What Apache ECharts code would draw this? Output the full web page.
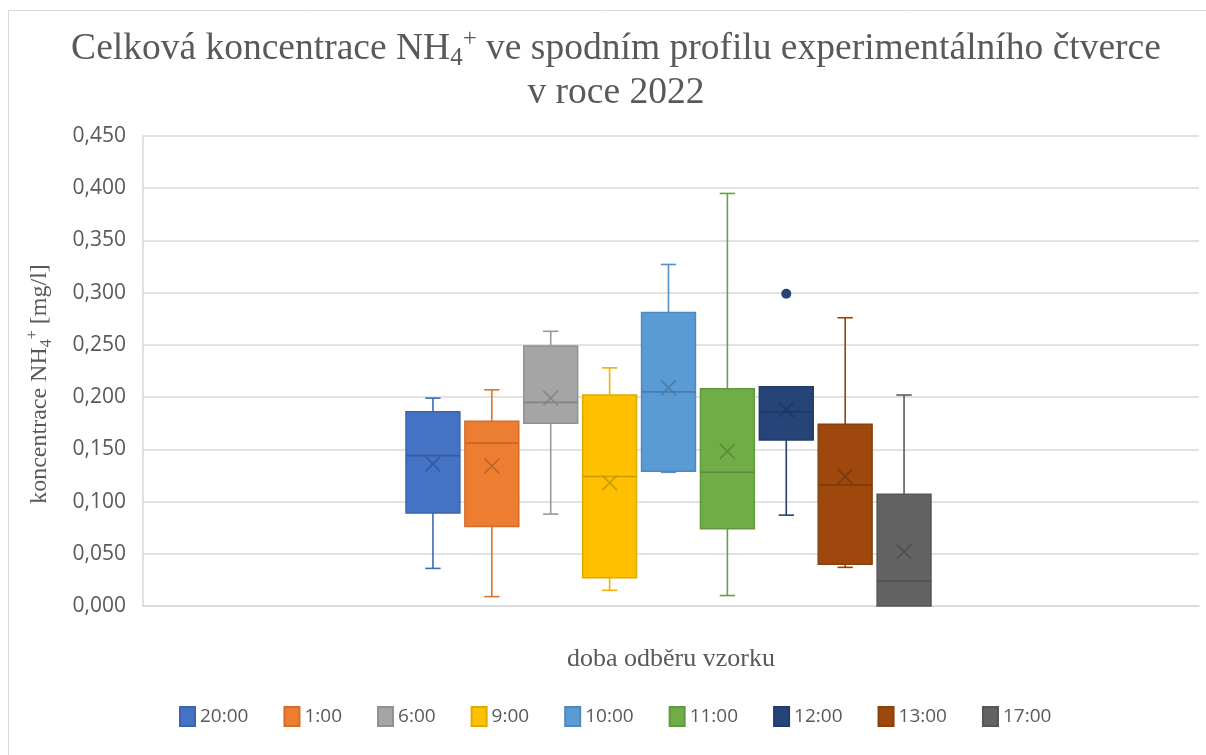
<!DOCTYPE html>
<html><head><meta charset="utf-8">
<script src="https://cdn.jsdelivr.net/npm/echarts@6/dist/echarts.min.js"></script>
<style>html,body{margin:0;padding:0;background:#fff}#c{width:1206px;height:755px}</style>
</head><body><div id="c"></div>
<script>
// ---- data ----
const times   = ['20:00','1:00','6:00','9:00','10:00','11:00','12:00','13:00','17:00'];
const mins    = [0.036, 0.009, 0.088, 0.015, 0.128, 0.010, 0.087, 0.037, 0.000];
const q1s     = [0.089, 0.076, 0.175, 0.027, 0.129, 0.074, 0.159, 0.040, 0.000];
const medians = [0.144, 0.156, 0.195, 0.124, 0.205, 0.128, 0.186, 0.116, 0.024];
const q3s     = [0.186, 0.177, 0.249, 0.202, 0.281, 0.208, 0.210, 0.174, 0.107];
const maxs    = [0.199, 0.207, 0.263, 0.228, 0.327, 0.395, 0.210, 0.276, 0.202];
const means   = [0.136, 0.134, 0.199, 0.118, 0.209, 0.148, 0.188, 0.124, 0.052];
const outlierTimes  = ['12:00'];
const outlierValues = [0.299];
const yTickLabels = ['0,000','0,050','0,100','0,150','0,200','0,250','0,300','0,350','0,400','0,450'];

// ---- styles ----
const colors = ['#4472C4','#ED7D31','#A5A5A5','#FFC000','#5B9BD5','#70AD47','#264478','#9E480E','#636363'];
function shade(hex, f) {
  const n = parseInt(hex.slice(1), 16);
  const r = Math.round(((n >> 16) & 255) * f), g = Math.round(((n >> 8) & 255) * f), b = Math.round((n & 255) * f);
  return 'rgb(' + r + ',' + g + ',' + b + ')';
}
const serif = '"Liberation Serif", "Times New Roman", serif';
const sans = '"Open Sans", "Liberation Sans", sans-serif';
const textGrey = '#595959';

function renderBox(params, api) {
  const i = api.value(0);
  const mn = api.value(1), q1 = api.value(2), md = api.value(3), q3 = api.value(4), mx = api.value(5), mean = api.value(6);
  const band = api.size([1, 0])[0];
  const bw = band * 0.915, cw = band * 0.26, xs = band * 0.125;
  const cx = api.coord([i, md])[0];
  const y = v => api.coord([i, v])[1];
  const col = colors[i];
  const dark = shade(col, 0.8);
  const wl = shade(col, 0.93);
  const ch = [];
  if (mx > q3) {
    ch.push({type: 'line', shape: {x1: cx, y1: y(q3), x2: cx, y2: y(mx)}, style: {stroke: wl, lineWidth: 1.6}});
    ch.push({type: 'line', shape: {x1: cx - cw / 2, y1: y(mx), x2: cx + cw / 2, y2: y(mx)}, style: {stroke: wl, lineWidth: 1.6}});
  }
  if (mn < q1) {
    ch.push({type: 'line', shape: {x1: cx, y1: y(q1), x2: cx, y2: y(mn)}, style: {stroke: wl, lineWidth: 1.6}});
    ch.push({type: 'line', shape: {x1: cx - cw / 2, y1: y(mn), x2: cx + cw / 2, y2: y(mn)}, style: {stroke: wl, lineWidth: 1.6}});
  }
  ch.push({type: 'rect', shape: {x: cx - bw / 2, y: y(q3), width: bw, height: y(q1) - y(q3)},
           style: {fill: col, stroke: shade(col, 0.88), lineWidth: 1.5}});
  ch.push({type: 'line', shape: {x1: cx - bw / 2, y1: y(md), x2: cx + bw / 2, y2: y(md)}, style: {stroke: dark, lineWidth: 1.6}});
  const ym = y(mean);
  ch.push({type: 'line', shape: {x1: cx - xs, y1: ym - xs, x2: cx + xs, y2: ym + xs}, style: {stroke: dark, lineWidth: 1.6}});
  ch.push({type: 'line', shape: {x1: cx - xs, y1: ym + xs, x2: cx + xs, y2: ym - xs}, style: {stroke: dark, lineWidth: 1.6}});
  return {type: 'group', children: ch};
}

const boxSeries = times.map((t, i) => ({
  name: t,
  type: 'custom',
  xAxisIndex: 1, yAxisIndex: 1,
  renderItem: renderBox,
  itemStyle: {color: colors[i], borderColor: shade(colors[i], 0.88), borderWidth: 1},
  encode: {x: 0, y: [1, 2, 3, 4, 5, 6]},
  data: [[i, mins[i], q1s[i], medians[i], q3s[i], maxs[i], means[i]]],
  clip: false,
  z: 3
}));

const outlierSeries = {
  name: 'odlehlé hodnoty',
  type: 'scatter',
  xAxisIndex: 1, yAxisIndex: 1,
  symbol: 'circle', symbolSize: 10,
  itemStyle: {color: colors[6], opacity: 1},
  data: outlierTimes.map((t, k) => [times.indexOf(t), outlierValues[k]]),
  z: 4
};

const chart = echarts.init(document.getElementById('c'), null, {renderer: 'canvas'});
chart.setOption({
  backgroundColor: '#fff',
  animation: false,
  graphic: [{type: 'rect', shape: {x: 8.5, y: 10.5, width: 1300, height: 900},
             style: {fill: 'none', stroke: '#d9d9d9', lineWidth: 1}, silent: true, z: -10}],
  title: {
    text: 'Celková koncentrace NH{sub|4}{sup|+} ve spodním profilu experimentálního čtverce\nv roce 2022',
    left: 611, top: 22, textAlign: 'center',
    textStyle: {
      fontFamily: serif, fontSize: 37.5, fontWeight: 'normal', color: textGrey, lineHeight: 44, align: 'center',
      rich: {
        sub: {fontFamily: serif, fontSize: 25, color: textGrey, lineHeight: 18, verticalAlign: 'bottom'},
        sup: {fontFamily: serif, fontSize: 25, color: textGrey, lineHeight: 30, verticalAlign: 'top'}
      }
    }
  },
  legend: {
    data: times,
    top: 701, left: 174,
    icon: 'rect', itemWidth: 15, itemHeight: 19, itemGap: 35,
    textStyle: {fontFamily: sans, fontSize: 19, color: textGrey}
  },
  grid: [
    {left: 143, right: 7, top: 136, bottom: 149},
    {left: 403.5, width: 530, top: 136, bottom: 149}
  ],
  xAxis: [
    {type: 'category', gridIndex: 0, data: [''],
     axisLine: {show: true, lineStyle: {color: '#d9d9d9', width: 1.5}},
     axisTick: {show: false}, axisLabel: {show: false},
     name: 'doba odběru vzorku', nameLocation: 'middle', nameGap: 40,
     nameTextStyle: {fontFamily: serif, fontSize: 26, color: textGrey}},
    {type: 'category', gridIndex: 1, data: times, show: false}
  ],
  yAxis: [
    {type: 'value', gridIndex: 0, min: 0, max: 0.45, interval: 0.05,
     axisLine: {show: true, lineStyle: {color: '#d9d9d9', width: 1.5}},
     axisTick: {show: false},
     splitLine: {lineStyle: {color: '#d9d9d9', width: 1.5}},
     axisLabel: {fontFamily: sans, fontSize: 21, color: textGrey, margin: 17,
                 formatter: v => yTickLabels[Math.round(v / 0.05)]},
     name: 'koncentrace NH{sub|4}{sup|+} [mg/l]', nameLocation: 'middle', nameGap: 88, nameRotate: 90,
     nameTextStyle: {fontFamily: serif, fontSize: 24, color: textGrey, lineHeight: 30, padding: [0, 26, 0, 0],
       rich: {
         sub: {fontFamily: serif, fontSize: 16, color: textGrey, lineHeight: 14, verticalAlign: 'bottom'},
         sup: {fontFamily: serif, fontSize: 16, color: textGrey, lineHeight: 20, verticalAlign: 'top'}
       }}},
    {type: 'value', gridIndex: 1, min: 0, max: 0.45, interval: 0.05, show: false, splitLine: {show: false}}
  ],
  series: boxSeries.concat([outlierSeries])
});
</script></body></html>
